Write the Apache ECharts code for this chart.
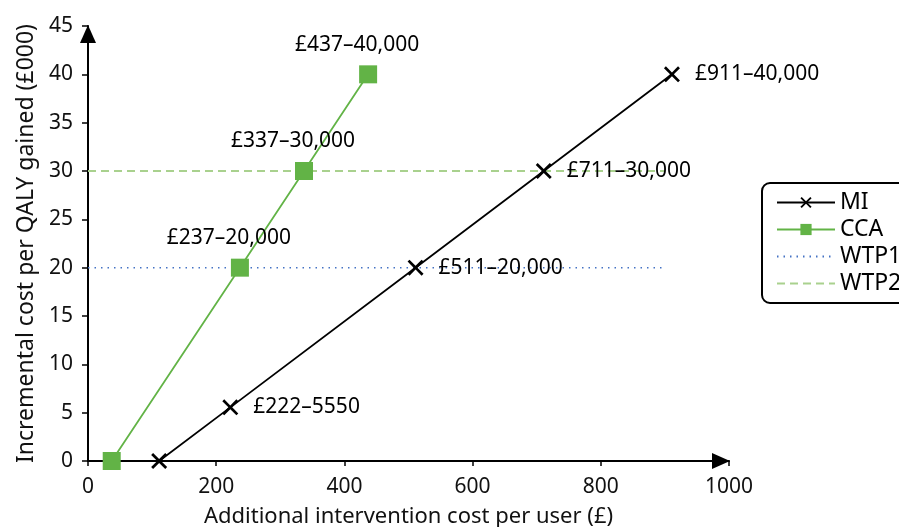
<!DOCTYPE html>
<html><head><meta charset="utf-8">
<script src="https://cdn.jsdelivr.net/npm/echarts@6/dist/echarts.min.js"></script>
<style>html,body{margin:0;padding:0;background:#fff}#c{width:899px;height:527px}</style>
</head><body><div id="c"></div>
<script>
const miX = [111, 222, 511, 711, 911];
const miY = [0, 5.55, 20, 30, 40];
const miLabels = ['', '£222–5550', '£511–20,000', '£711–30,000', '£911–40,000'];
const ccaX = [37, 237, 337, 437];
const ccaY = [0, 20, 30, 40];
const ccaLabels = ['', '£237–20,000', '£337–30,000', '£437–40,000'];
const wtp1X = [0, 900], wtp1Y = [20, 20];
const wtp2X = [0, 900], wtp2Y = [30, 30];
const xTicks = [0, 200, 400, 600, 800, 1000];
const yTicks = [0, 5, 10, 15, 20, 25, 30, 35, 40, 45];

const FONT = 'Noto Sans';
const xSym = 'path://M0,1.2L1.2,0L5,3.8L8.8,0L10,1.2L6.2,5L10,8.8L8.8,10L5,6.2L1.2,10L0,8.8L3.8,5Z';

function pts(xs, ys, labels) {
  return xs.map((x, i) => {
    const d = { value: [x, ys[i]] };
    if (labels) d.label = { show: !!labels[i], formatter: labels[i] || '' };
    return d;
  });
}

const chart = echarts.init(document.getElementById('c'));
chart.setOption({
  animation: false,
  grid: { left: 88, right: 170, top: 26, bottom: 66, outerBoundsMode: 'none', containLabel: false },
  xAxis: {
    type: 'value', min: 0, max: 1000, interval: 200,
    name: 'Additional intervention cost per user (£)', nameLocation: 'middle', nameGap: 45,
    nameTextStyle: { fontFamily: FONT, fontSize: 22, color: '#111' },
    axisLine: { lineStyle: { color: '#000', width: 2 }, symbol: ['none', 'triangle'], symbolSize: [16, 18], symbolOffset: [0, -8] },
    axisTick: { show: true, length: 5, lineStyle: { color: '#000', width: 1.5 } },
    axisLabel: { fontFamily: FONT, fontSize: 21, color: '#111', margin: 16,
      formatter: v => xTicks.includes(v) ? String(v) : '' },
    splitLine: { show: false }
  },
  yAxis: {
    type: 'value', min: 0, max: 45, interval: 5,
    name: 'Incremental cost per QALY gained (£000)', nameLocation: 'middle', nameGap: 48,
    nameTextStyle: { fontFamily: FONT, fontSize: 23, color: '#111' },
    axisLine: { show: true, lineStyle: { color: '#000', width: 2 }, symbol: ['none', 'triangle'], symbolSize: [16, 18], symbolOffset: [0, -8] },
    axisTick: { show: true, length: 6, lineStyle: { color: '#000', width: 1.5 } },
    axisLabel: { fontFamily: FONT, fontSize: 21, color: '#111', margin: 15,
      formatter: v => yTicks.includes(v) ? String(v) : '' },
    splitLine: { show: false }
  },
  legend: {
    orient: 'vertical', left: 762, top: 183,
    borderColor: '#000', borderWidth: 2, borderRadius: 8,
    padding: [8, 40, 8, 14], itemGap: 4, itemWidth: 58, itemHeight: 14,
    textStyle: { fontFamily: FONT, fontSize: 23, color: '#000' },
    data: ['MI', 'CCA',
      { name: 'WTP1', itemStyle: { opacity: 0 } },
      { name: 'WTP2', itemStyle: { opacity: 0 } }]
  },
  series: [
    {
      name: 'MI', type: 'line', data: pts(miX, miY, miLabels),
      symbol: xSym, symbolSize: 16,
      lineStyle: { color: '#000', width: 1.8 }, itemStyle: { color: '#000' },
      label: { position: 'right', distance: 15, fontFamily: FONT, fontSize: 21, color: '#000' },
      z: 3
    },
    {
      name: 'CCA', type: 'line', data: pts(ccaX, ccaY, ccaLabels),
      symbol: 'rect', symbolSize: 18,
      lineStyle: { color: '#62B346', width: 1.8 }, itemStyle: { color: '#62B346' },
      label: { position: 'top', distance: 10, offset: [-11, 0], fontFamily: FONT, fontSize: 21, color: '#000' },
      z: 3
    },
    {
      name: 'WTP1', type: 'line', data: pts(wtp1X, wtp1Y), symbol: 'none',
      lineStyle: { color: '#4472C4', width: 1.5, type: [1.5, 5] }, itemStyle: { color: '#4472C4' }, z: 2
    },
    {
      name: 'WTP2', type: 'line', data: pts(wtp2X, wtp2Y), symbol: 'none',
      lineStyle: { color: '#A9D18E', width: 1.8, type: [8, 5] }, itemStyle: { color: '#A9D18E' }, z: 2
    }
  ]
});
</script></body></html>
